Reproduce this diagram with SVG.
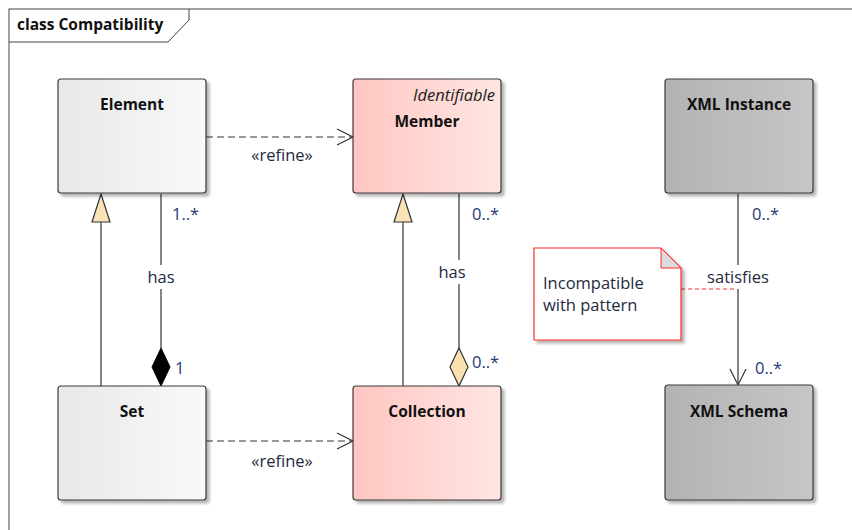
<svg xmlns="http://www.w3.org/2000/svg" width="852" height="530" viewBox="0 0 852 530">
  <defs>
    <linearGradient id="gLight" x1="0" y1="0" x2="1" y2="0">
      <stop offset="0" stop-color="#e8e8e8"/>
      <stop offset="1" stop-color="#f9f9f9"/>
    </linearGradient>
    <linearGradient id="gPink" x1="0" y1="0" x2="1" y2="0">
      <stop offset="0" stop-color="#ffc6c2"/>
      <stop offset="1" stop-color="#ffe6e3"/>
    </linearGradient>
    <linearGradient id="gGray" x1="0" y1="0" x2="1" y2="0">
      <stop offset="0" stop-color="#b3b3b3"/>
      <stop offset="1" stop-color="#c6c6c6"/>
    </linearGradient>
    <filter id="shadow" x="-10%" y="-10%" width="130%" height="130%">
      <feGaussianBlur in="SourceAlpha" stdDeviation="1.5"/>
      <feOffset dx="3" dy="3" result="b"/>
      <feComponentTransfer><feFuncA type="linear" slope="0.3"/></feComponentTransfer>
      <feMerge><feMergeNode/><feMergeNode in="SourceGraphic"/></feMerge>
    </filter>
    <marker id="openArrow" viewBox="0 0 20 20" refX="18" refY="10" markerWidth="20" markerHeight="20" markerUnits="userSpaceOnUse" orient="auto">
      <path d="M2,2 L18,10 L2,18" fill="none" stroke="#333" stroke-width="1.2"/>
    </marker>
  </defs>
  <style>
    .frame { fill: #ffffff; stroke: #444; stroke-width: 1; }
    .box { stroke: #3a3a3a; stroke-width: 1.2; filter: url(#shadow); }
    .name { font-family: "Open Sans", "Noto Sans", sans-serif; font-size: 15.5px; font-weight: bold; fill: #111; text-anchor: middle; }
    .stereo { font-family: "Open Sans", "Noto Sans", sans-serif; font-size: 16.5px; font-style: italic; fill: #222; text-anchor: end; }
    .lbl { font-family: "Open Sans", "Noto Sans", sans-serif; font-size: 16.5px; fill: #1e2a3e; }
    .mult { font-family: "Open Sans", "Noto Sans", sans-serif; font-size: 16.5px; fill: #1c3a7a; }
    .line { fill: none; stroke: #333; stroke-width: 1.2; }
    .dash { stroke-dasharray: 7 4; }
    .note { fill: #ffffff; stroke: #ff2a2a; stroke-width: 1.2; }
    .noteText { font-family: "Open Sans", "Noto Sans", sans-serif; font-size: 16.5px; fill: #1e2a3e; }
  </style>

  <!-- diagram frame -->
  <g id="frame">
    <rect x="9" y="9" width="850" height="530" class="frame"/>
    <path d="M9,42 L168,42 L189,20 L189,9" fill="none" stroke="#444" stroke-width="1"/>
    <text x="17" y="30" font-family="'Open Sans', 'Noto Sans', sans-serif" font-size="15.5" font-weight="bold" fill="#111">class Compatibility</text>
  </g>

  <!-- connectors -->
  <g id="connectors">
    <!-- refine: Element to Member -->
    <line x1="206" y1="137" x2="353" y2="137" class="line dash" marker-end="url(#openArrow)"/>
    <text x="282" y="161" class="lbl" text-anchor="middle">«refine»</text>
    <!-- refine: Set to Collection -->
    <line x1="206" y1="441" x2="353" y2="441" class="line dash" marker-end="url(#openArrow)"/>
    <text x="282" y="467" class="lbl" text-anchor="middle">«refine»</text>

    <!-- generalization Set to Element -->
    <line x1="101" y1="386" x2="101" y2="222" class="line"/>
    <path d="M101,194 L110,222 L92,222 Z" fill="#fbe3b8" stroke="#333" stroke-width="1.2"/>
    <!-- generalization Collection to Member -->
    <line x1="403" y1="386" x2="403" y2="222" class="line"/>
    <path d="M403,194 L412,222 L394,222 Z" fill="#fbe3b8" stroke="#333" stroke-width="1.2"/>

    <!-- composition Element / Set -->
    <path d="M161,194 L161,265 M161,289 L161,348" class="line"/>
    <path d="M161,348 L170,367 L161,386 L152,367 Z" fill="#000" stroke="#000" stroke-width="1"/>
    <text x="172" y="220" class="mult">1..*</text>
    <text x="161" y="283" class="lbl" text-anchor="middle">has</text>
    <text x="175" y="374" class="mult">1</text>

    <!-- aggregation Member / Collection -->
    <path d="M459,194 L459,260 M459,284 L459,348" class="line"/>
    <path d="M459,348 L468,367 L459,386 L450,367 Z" fill="#fbe0b0" stroke="#333" stroke-width="1.2"/>
    <text x="472" y="220" class="mult">0..*</text>
    <text x="452" y="278" class="lbl" text-anchor="middle">has</text>
    <text x="472" y="368" class="mult">0..*</text>

    <!-- satisfies XML Instance to XML Schema -->
    <path d="M738,194 L738,265 M738,289 L738,385" class="line" marker-end="url(#openArrow)"/>
    <text x="752" y="220" class="mult">0..*</text>
    <text x="738" y="283" class="lbl" text-anchor="middle">satisfies</text>
    <text x="755" y="374" class="mult">0..*</text>

    <!-- note link -->
    <line x1="681" y1="289" x2="736" y2="289" stroke="#ff2a2a" stroke-width="1" stroke-dasharray="4 3"/>
  </g>

  <!-- nodes -->
  <g id="element">
    <rect x="58" y="79" width="148" height="114" rx="3" fill="url(#gLight)" class="box"/>
    <text x="132" y="110" class="name">Element</text>
  </g>
  <g id="member">
    <rect x="353" y="79" width="148" height="114" rx="3" fill="url(#gPink)" class="box"/>
    <text x="495" y="101" class="stereo">Identifiable</text>
    <text x="427" y="127" class="name">Member</text>
  </g>
  <g id="xml-instance">
    <rect x="665" y="79" width="148" height="114" rx="3" fill="url(#gGray)" class="box"/>
    <text x="739" y="110" class="name">XML Instance</text>
  </g>
  <g id="set">
    <rect x="58" y="386" width="148" height="114" rx="3" fill="url(#gLight)" class="box"/>
    <text x="132" y="417" class="name">Set</text>
  </g>
  <g id="collection">
    <rect x="353" y="386" width="148" height="114" rx="3" fill="url(#gPink)" class="box"/>
    <text x="427" y="417" class="name">Collection</text>
  </g>
  <g id="xml-schema">
    <rect x="665" y="385" width="148" height="115" rx="3" fill="url(#gGray)" class="box"/>
    <text x="739" y="417" class="name">XML Schema</text>
  </g>
  <g id="note">
    <path d="M534,248 L661,248 L681,268 L681,340 L534,340 Z" class="note" filter="url(#shadow)"/>
    <path d="M661,248 L661,268 L681,268 Z" fill="#dcdcdc" stroke="#ff2a2a" stroke-width="1"/>
    <text x="543" y="289" class="noteText">Incompatible</text>
    <text x="543" y="311" class="noteText">with pattern</text>
  </g>
</svg>
